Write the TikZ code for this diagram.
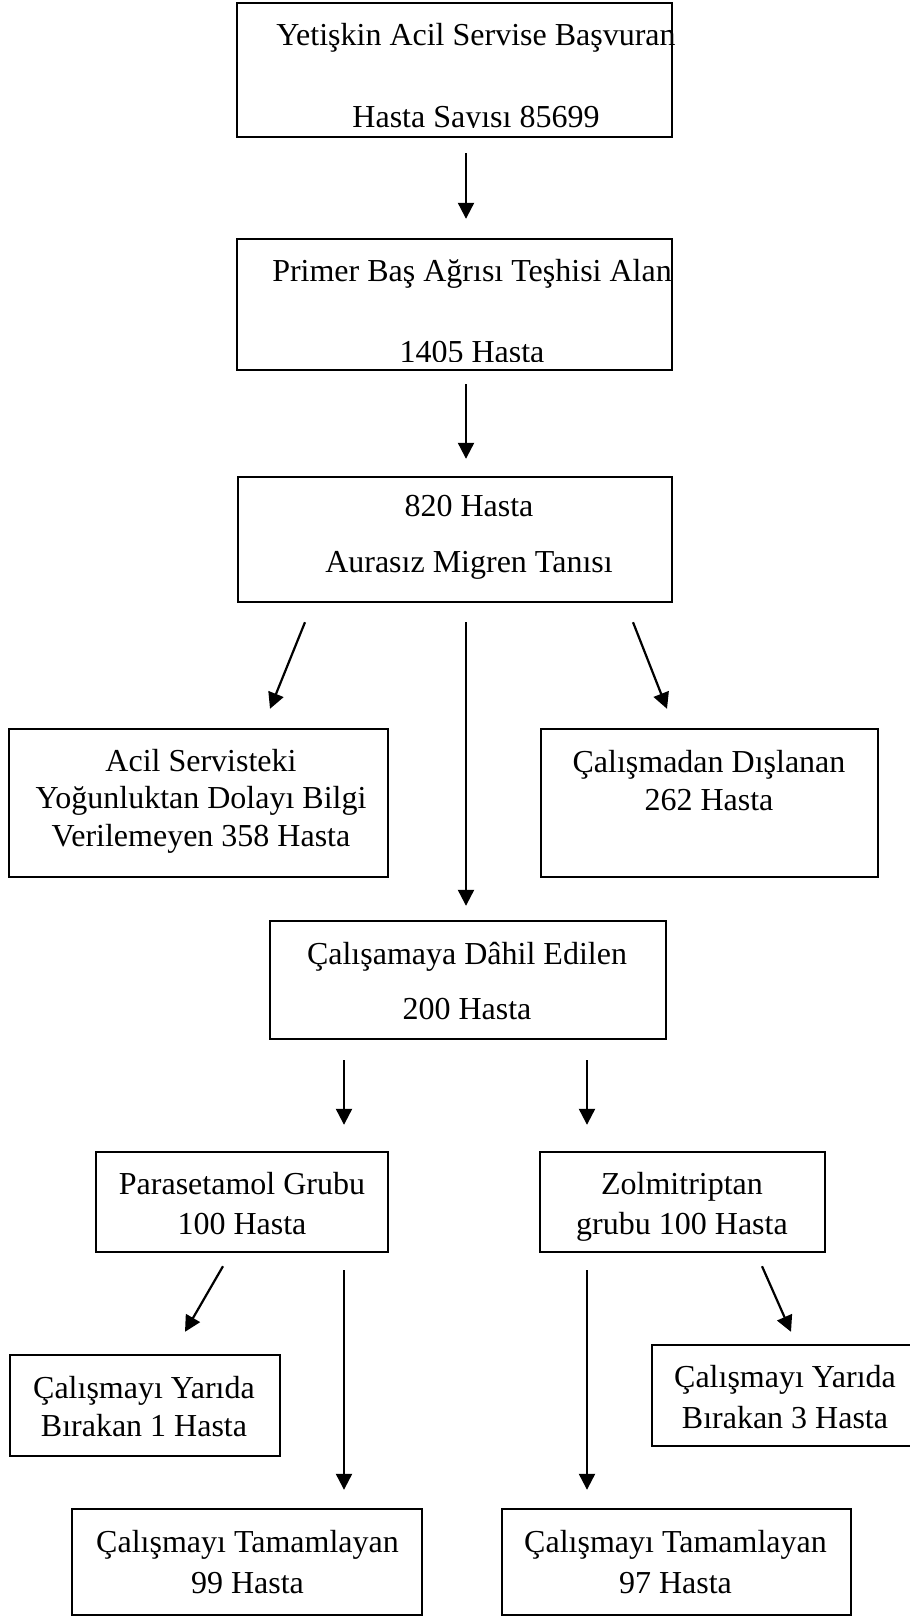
\documentclass[tikz,border=0pt]{standalone}
\usepackage{fontspec}
\setmainfont{Liberation Serif}
\usetikzlibrary{arrows.meta}

\begin{document}
\begin{tikzpicture}
		[	x=0.5pt,y=-0.5pt,
		box/.style={rectangle,draw=black,line width=1.2pt,inner sep=0pt},
		plain/.style={draw=none,fill=none,align=center,inner sep=0pt},
		lsep/.style={font=\fontsize{16pt}{#1}\selectfont},
		arr/.style={line width=1.1pt,-{Triangle[length=8pt,width=8pt]}},
		]
		\useasboundingbox (0,0) rectangle (910,1617);

		\node[box,name=basvuran,minimum width=217.5pt,minimum height=67pt] at (454.5,70){};
		\node[box,name=primer,minimum width=217.5pt,minimum height=65.5pt] at (454.5,304.5){};
		\node[box,name=migren,minimum width=217pt,minimum height=62.5pt] at (455,539.5){};
		\node[box,name=bilgisiz,minimum width=189.5pt,minimum height=74pt] at (198.5,803){};
		\node[box,name=dislanan,minimum width=168.5pt,minimum height=74pt] at (709.5,803){};
		\node[box,name=dahil,minimum width=198pt,minimum height=59pt] at (468,980){};
		\node[box,name=parasetamol,minimum width=146pt,minimum height=50pt] at (242,1202){};
		\node[box,name=zolmi,minimum width=142.5pt,minimum height=50pt] at (682.5,1202){};
		\node[box,name=birakanA,minimum width=135pt,minimum height=50.5pt] at (145,1405.5){};
		\node[box,name=birakanB,minimum width=130pt,minimum height=50.5pt] at (782,1395.5){};
		\node[box,name=tamamA,minimum width=175pt,minimum height=53pt] at (247,1562){};
		\node[box,name=tamamB,minimum width=174.5pt,minimum height=53pt] at (676.5,1562){};

		% texts (the two top ones are cut by their box as in the original)
		\begin{scope}
			\clip (0,0) rectangle (910,127);
			\node[plain,lsep=41pt,name=basvuranT] at (476,79) {Yetişkin Acil Servise Başvuran\\Hasta Sayısı 85699};
		\end{scope}
		\begin{scope}
			\clip (0,200) rectangle (910,361);
			\node[plain,lsep=40.5pt,name=primerT] at (472,311) {Primer Baş Ağrısı Teşhisi Alan\\1405 Hasta};
		\end{scope}
		\node[plain,lsep=28pt,name=migrenT] at (469,537) {820 Hasta\\Aurasız Migren Tanısı};
		\node[plain,lsep=18.75pt,name=bilgisizT] at (201,801) {Acil Servisteki\\Yoğunluktan Dolayı Bilgi\\Verilemeyen 358 Hasta};
		\node[plain,lsep=19pt,name=dislananT] at (709,781) {Çalışmadan Dışlanan\\262 Hasta};
		\node[plain,lsep=27.5pt,name=dahilT] at (467,981) {Çalışamaya Dâhil Edilen\\200 Hasta};
		\node[plain,lsep=20pt,name=parasetamolT] at (242,1204) {Parasetamol Grubu\\100 Hasta};
		\node[plain,lsep=20pt,name=zolmiT] at (682,1207) {Zolmitriptan\\grubu 100 Hasta};
		\node[plain,lsep=19pt,name=birakanAT] at (144,1407) {Çalışmayı Yarıda\\Bırakan 1 Hasta};
		\node[plain,lsep=20.5pt,name=birakanBT] at (785,1397.5) {Çalışmayı Yarıda\\Bırakan 3 Hasta};
		\node[plain,lsep=20.5pt,name=tamamAT] at (247.5,1562.5) {Çalışmayı Tamamlayan\\99 Hasta};
		\node[plain,lsep=20.5pt,name=tamamBT] at (675.5,1562.5) {Çalışmayı Tamamlayan\\97 Hasta};

		% arrows
		\draw[arr] ([shift={(11.5,15)}]basvuran.south) -- ([shift={(11.5,-19)}]primer.north);
		\draw[arr] ([shift={(11.5,13)}]primer.south) -- ([shift={(11,-17)}]migren.north);
		\draw[arr] ([shift={(-150,19)}]migren.south) -- ([shift={(71.5,-19)}]bilgisiz.north);
		\draw[arr] ([shift={(11,19)}]migren.south) -- ([shift={(-2,-14)}]dahil.north);
		\draw[arr] ([shift={(178,19)}]migren.south) -- ([shift={(-42.5,-19)}]dislanan.north);
		\draw[arr] ([shift={(-124,20)}]dahil.south) -- ([shift={(102,-26)}]parasetamol.north);
		\draw[arr] ([shift={(119,20)}]dahil.south) -- ([shift={(-95.5,-26)}]zolmi.north);
		\draw[arr] ([shift={(-19,13)}]parasetamol.south) -- ([shift={(40,-22)}]birakanA.north);
		\draw[arr] ([shift={(102,17)}]parasetamol.south) -- ([shift={(97,-18)}]tamamA.north);
		\draw[arr] ([shift={(-95.5,17)}]zolmi.south) -- ([shift={(-89.5,-18)}]tamamB.north);
		\draw[arr] ([shift={(79.5,13)}]zolmi.south) -- ([shift={(9,-12)}]birakanB.north);
	\end{tikzpicture}
\end{document}
